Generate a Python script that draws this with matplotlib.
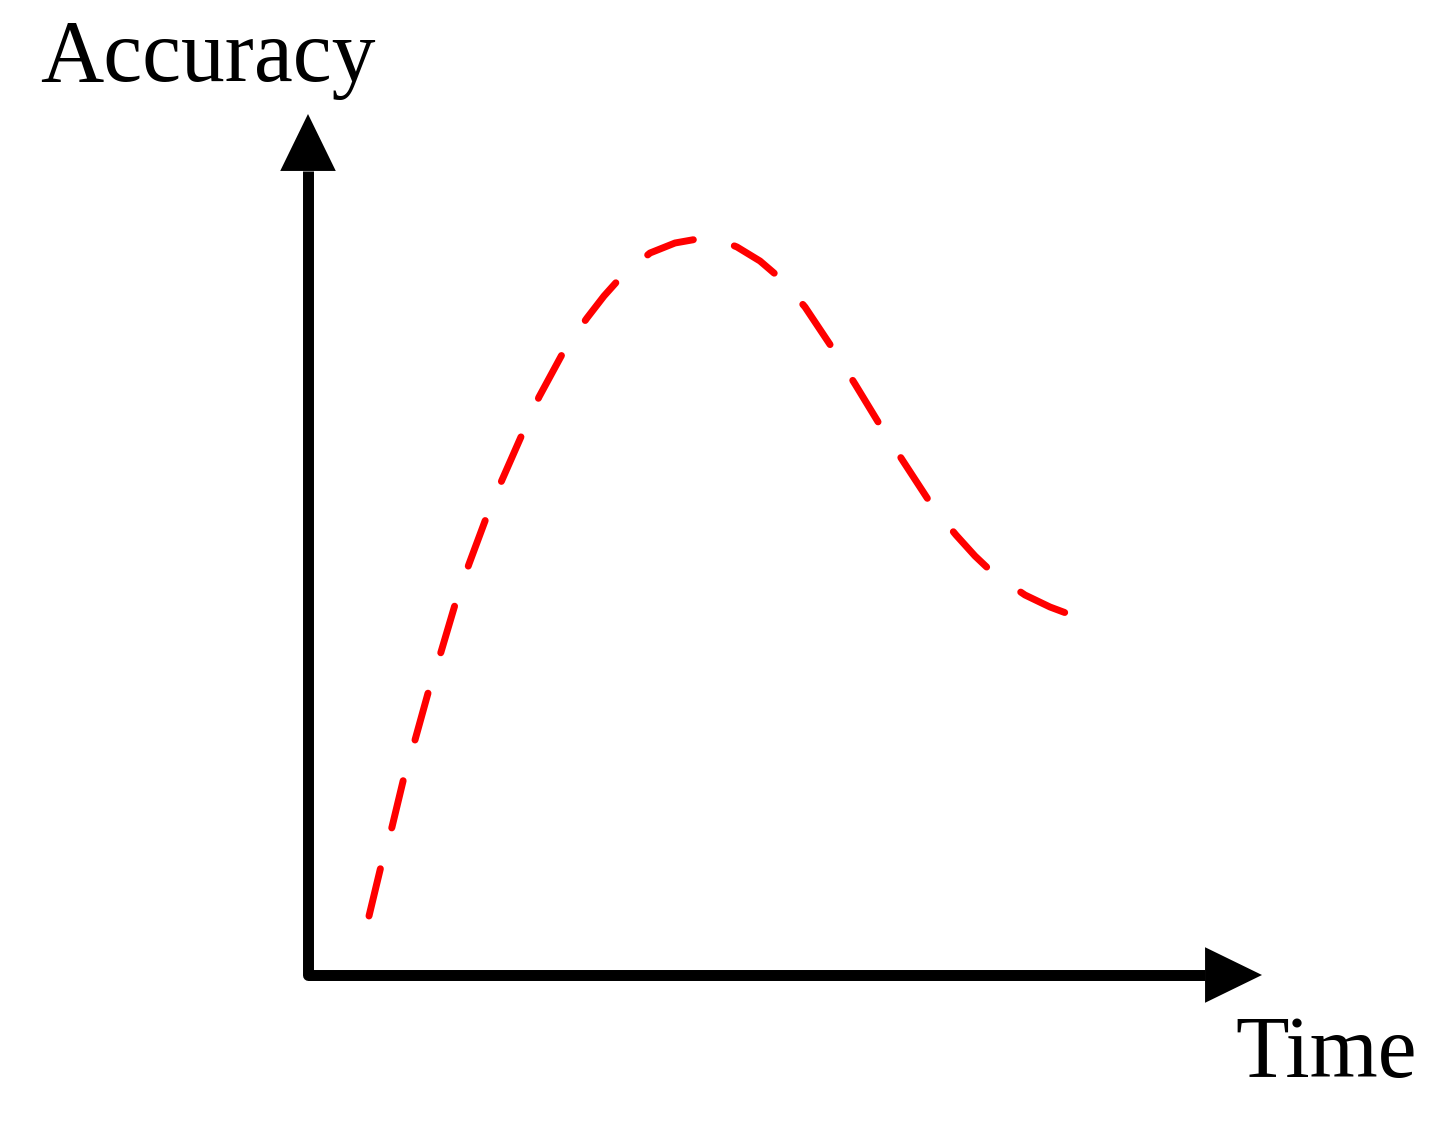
import matplotlib
matplotlib.use('Agg')
import matplotlib.pyplot as plt

# Schematic curve: accuracy vs time (arbitrary units, origin at the axes corner)
time_vals = [61, 74, 84, 97, 107, 122, 133, 149, 161, 180, 194, 216, 231, 257,
             279, 296, 313, 342, 367, 395, 412, 429, 452, 473, 497, 527, 547,
             575, 595, 625, 648, 667, 686, 717, 742, 766]
acc_vals = [59, 113, 148, 202, 235, 289, 323, 377, 411, 462, 495, 545, 578, 626,
            657, 679, 698, 722, 732, 737, 735, 728, 714, 696, 668, 623, 591,
            545, 514, 468, 440, 419, 401, 380, 368, 359]

x_axis_end = 954
y_axis_end = 861
x_label = 'Time'
y_label = 'Accuracy'

fig = plt.figure(figsize=(14.56, 11.26), dpi=100)
ax = fig.add_axes([0, 0, 1, 1])
ax.set_xlim(-308, 1148)
ax.set_ylim(-151, 975)
ax.axis('off')

# axis shafts (one L-shaped line, round corner)
head_len = 57
ax.plot([0, 0, x_axis_end - head_len], [y_axis_end - head_len, 0, 0],
        color='black', lw=7.9, solid_joinstyle='round', solid_capstyle='butt')

# arrow heads
style = '-|>,head_length=4.1,head_width=2.0'
ax.annotate('', xy=(0, y_axis_end), xytext=(0, 0),
            arrowprops=dict(arrowstyle=style, lw=0, color='black',
                            mutation_scale=10, shrinkA=0, shrinkB=0))
ax.annotate('', xy=(x_axis_end, 0), xytext=(0, 0),
            arrowprops=dict(arrowstyle=style, lw=0, color='black',
                            mutation_scale=10, shrinkA=0, shrinkB=0))

# dashed red curve
ax.plot(time_vals, acc_vals, color='#ff0000', lw=5.0, dashes=(7.0, 6.1),
        dash_capstyle='round')

ax.text(-268, 894, y_label, family='Liberation Serif', fontsize=63,
        ha='left', va='baseline')
ax.text(927, -102, x_label, family='Liberation Serif', fontsize=63,
        ha='left', va='baseline')

fig.savefig('out.png', dpi=100)
